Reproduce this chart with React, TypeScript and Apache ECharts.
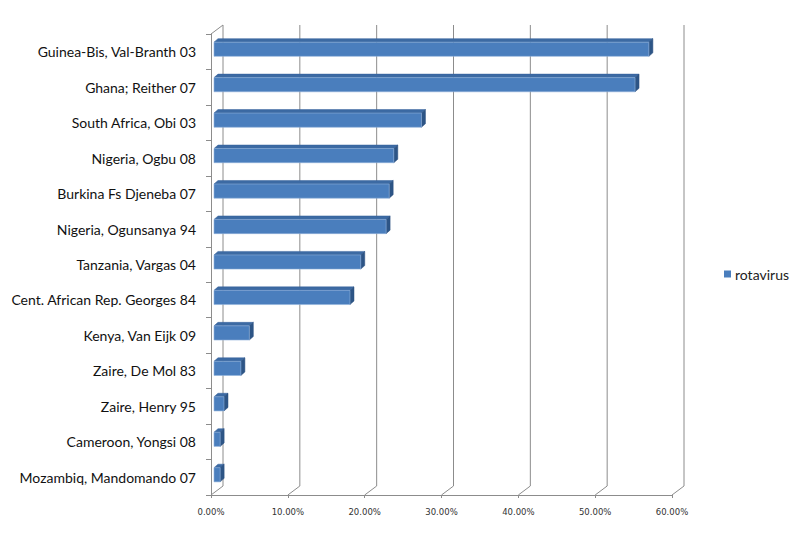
import React, { useEffect, useRef } from "react";
import * as echarts from "echarts";

const categories = [
  "Guinea-Bis, Val-Branth 03",
  "Ghana; Reither 07",
  "South Africa, Obi 03",
  "Nigeria, Ogbu 08",
  "Burkina Fs Djeneba 07",
  "Nigeria, Ogunsanya 94",
  "Tanzania, Vargas 04",
  "Cent. African Rep. Georges 84",
  "Kenya, Van Eijk 09",
  "Zaire, De Mol 83",
  "Zaire, Henry 95",
  "Cameroon, Yongsi 08",
  "Mozambiq, Mandomando 07",
];

const rotavirus = [0.566, 0.548, 0.27, 0.234, 0.228, 0.224, 0.191, 0.177, 0.046, 0.035, 0.013, 0.008, 0.008];

const xTicks = [0, 0.1, 0.2, 0.3, 0.4, 0.5, 0.6];

const DEPTH_X = 12;
const DEPTH_Y = -9;
const GRID_COLOR = "#8c8c8c";

export default function App() {
  const ref = useRef<HTMLDivElement>(null);

  useEffect(() => {
    if (!ref.current) return;
    const chart = echarts.init(ref.current, null, { renderer: "svg" });

    const wallsRender = (params: any, api: any) => {
      const cs = params.coordSys;
      const v = api.value(0);
      const x = api.coord([v, 0])[0];
      const yb = cs.y + cs.height;
      const yt = cs.y;
      const children: any[] = [
        {
          type: "polyline",
          shape: {
            points: [
              [x, yb],
              [x + DEPTH_X, yb + DEPTH_Y],
              [x + DEPTH_X, yt + DEPTH_Y],
            ],
          },
          style: { stroke: GRID_COLOR, lineWidth: 1, fill: "none" },
        },
      ];
      if (params.dataIndex === 0) {
        children.push({
          type: "line",
          shape: { x1: x, y1: yt, x2: x + DEPTH_X, y2: yt + DEPTH_Y },
          style: { stroke: GRID_COLOR, lineWidth: 1 },
        });
      }
      return { type: "group", children };
    };

    const barRender = (params: any, api: any) => {
      const val = api.value(0);
      const idx = api.value(1);
      const start = api.coord([0, idx]);
      const end = api.coord([val, idx]);
      const band = api.size([0, 1])[1];
      const h = band * 0.4;
      const dx = 3;
      const dy = -2.5;
      const x0 = start[0] + dx;
      const x1 = end[0] + dx;
      const y0 = start[1] + dy - h / 2;
      const y1 = start[1] + dy + h / 2;
      const ddx = 4;
      const ddy = -3.5;
      return {
        type: "group",
        children: [
          {
            type: "polygon",
            shape: {
              points: [
                [x0, y0],
                [x1, y0],
                [x1 + ddx, y0 + ddy],
                [x0 + ddx, y0 + ddy],
              ],
            },
            style: { fill: "#3c6aa3", stroke: "#34609a", lineWidth: 0.5 },
          },
          {
            type: "polygon",
            shape: {
              points: [
                [x1, y0],
                [x1 + ddx, y0 + ddy],
                [x1 + ddx, y1 + ddy],
                [x1, y1],
              ],
            },
            style: { fill: "#2d5586", stroke: "#2a4f7e", lineWidth: 0.5 },
          },
          {
            type: "rect",
            shape: { x: x0, y: y0, width: x1 - x0, height: y1 - y0 },
            style: { fill: "#4a7ebd", stroke: "#8fb0da", lineWidth: 0.6 },
          },
        ],
      };
    };

    chart.setOption({
      animation: false,
      backgroundColor: "#ffffff",
      grid: { left: 211, top: 34, width: 461, height: 461 },
      legend: {
        data: ["rotavirus"],
        left: 719,
        top: 262,
        icon: "rect",
        itemWidth: 7,
        itemHeight: 7,
        itemGap: 4,
        textStyle: { fontFamily: "Lato", fontSize: 14, color: "#222", padding: [0, 0, 0, -1] },
      },
      xAxis: {
        type: "value",
        min: 0,
        max: 0.6,
        interval: 0.1,
        axisLine: { show: true, lineStyle: { color: GRID_COLOR, width: 1 } },
        axisTick: { show: true, length: 3, lineStyle: { color: GRID_COLOR } },
        splitLine: { show: false },
        axisLabel: {
          margin: 12,
          fontFamily: "DejaVu Sans",
          fontSize: 8.5,
          color: "#333",
          formatter: (v: number) => (v * 100).toFixed(2) + "%",
        },
      },
      yAxis: {
        type: "category",
        data: categories,
        inverse: true,
        axisLine: { show: true, lineStyle: { color: GRID_COLOR, width: 1 } },
        axisTick: { show: true, length: 5, lineStyle: { color: GRID_COLOR } },
        axisLabel: {
          margin: 15,
          fontFamily: "Lato",
          fontSize: 14,
          color: "#111",
        },
      },
      series: [
        {
          name: "walls",
          type: "custom",
          renderItem: wallsRender,
          data: xTicks.map((t) => [t, 0]),
          encode: { x: 0, y: 1 },
          silent: true,
          z: 1,
        },
        {
          name: "rotavirus",
          type: "custom",
          renderItem: barRender,
          data: rotavirus.map((v, i) => [v, i]),
          encode: { x: 0, y: 1 },
          itemStyle: { color: "#4a7ebd" },
          z: 3,
        },
      ],
    });

    return () => chart.dispose();
  }, []);

  return (
    <div
      ref={ref}
      style={{ position: "fixed", left: 0, top: 0, width: 800, height: 533 }}
    />
  );
}
